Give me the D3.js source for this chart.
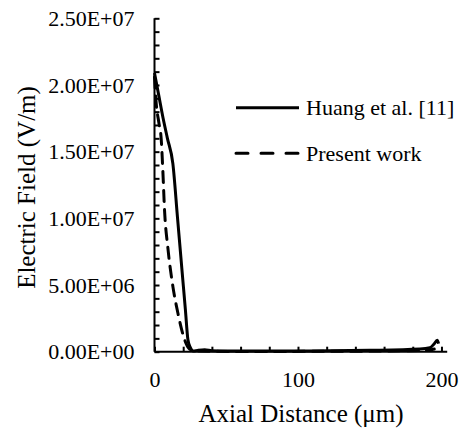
<!DOCTYPE html>
<html>
<head>
<meta charset="utf-8">
<script src="https://cdn.jsdelivr.net/npm/d3@7"></script>
<style>
  html, body { margin: 0; padding: 0; background: #fff; }
  svg { display: block; }
</style>
</head>
<body>
<svg id="chart" width="463" height="430"></svg>
<script>
// Axial distance (µm) and electric field (V/m) for each series
const huangX = [0, 3, 6, 9, 12.8, 16, 19, 21.5, 23.3, 25, 27, 30, 35, 40, 50, 100, 150, 185, 192, 195, 197, 198];
const huangY = [2.09e7, 1.92e7, 1.75e7, 1.60e7, 1.41e7, 1.01e7, 6.3e6, 3.2e6, 9.0e5, 3.0e5, 5.0e4, 1.0e5, 1.5e5, 8.0e4, 5.0e4, 5.0e4, 1.0e5, 2.0e5, 3.0e5, 6.0e5, 8.5e5, 6.0e5];

const presentX = [0, 1.2, 3, 4.7, 5.8, 7, 9.3, 12.8, 16.3, 21, 24, 28, 60, 120, 190, 195];
const presentY = [2.06e7, 1.86e7, 1.72e7, 1.59e7, 1.36e7, 1.06e7, 7.8e6, 4.9e6, 2.9e6, 9.0e5, 2.5e5, 5.0e4, 2.0e4, 3.0e4, 1.0e5, 2.0e5];

const seriesNames = ["Huang et al. [11]", "Present work"];

// Axis ticks
const yMajorTicks = [0, 5e6, 1e7, 1.5e7, 2e7, 2.5e7];
const yMinorTicks = d3.range(0, 2.5e7 + 1, 1e6);
const xMajorTicks = [0, 100, 200];
const xMinorTicks = d3.range(0, 201, 20);

const xTitle = "Axial Distance (\u03bcm)";
const yTitle = "Electric Field (V/m)";

const FONT = "'Liberation Serif', 'Times New Roman', 'DejaVu Serif', serif";

// Excel-style scientific label, e.g. 2.50E+07
function sci(v) {
  if (v === 0) return "0.00E+00";
  const e = Math.floor(Math.log10(Math.abs(v)));
  const m = (v / Math.pow(10, e)).toFixed(2);
  return m + "E" + (e < 0 ? "-" : "+") + String(Math.abs(e)).padStart(2, "0");
}

const svg = d3.select("#chart").style("font-family", FONT);
const plot = { left: 154.5, right: 447.2, top: 18.3, bottom: 351.7 };

const x = d3.scaleLinear().domain([0, 204]).range([plot.left, plot.right]);
const y = d3.scaleLinear().domain([0, 2.5e7]).range([plot.bottom, plot.top]);

// Minor ticks drawn inside the plot area
svg.append("g")
  .attr("transform", `translate(${plot.left},0)`)
  .call(d3.axisRight(y).tickValues(yMinorTicks).tickSize(5).tickFormat(""))
  .call(g => g.select(".domain").remove())
  .call(g => g.selectAll("line").attr("stroke", "#000").attr("stroke-width", 2));

svg.append("g")
  .attr("transform", `translate(0,${plot.bottom})`)
  .call(d3.axisTop(x).tickValues(xMinorTicks).tickSize(5).tickFormat(""))
  .call(g => g.select(".domain").remove())
  .call(g => g.selectAll("line").attr("stroke", "#000").attr("stroke-width", 2));

// Labelled axes
const yAxis = svg.append("g")
  .attr("transform", `translate(${plot.left},0)`)
  .call(d3.axisLeft(y).tickValues(yMajorTicks).tickSize(0).tickPadding(20).tickFormat(sci))
  .attr("font-family", FONT).attr("font-size", 22);
yAxis.select(".domain").attr("stroke", "#000").attr("stroke-width", 2)
  .attr("d", `M0,${plot.top}V${plot.bottom}`);
yAxis.selectAll("text").style("font-family", FONT).style("font-size", "22px").attr("fill", "#000");

const xAxis = svg.append("g")
  .attr("transform", `translate(0,${plot.bottom})`)
  .call(d3.axisBottom(x).tickValues(xMajorTicks).tickSize(0).tickPadding(19.5).tickFormat(d3.format("d")))
  .attr("font-family", FONT).attr("font-size", 22);
xAxis.select(".domain").attr("stroke", "#000").attr("stroke-width", 2)
  .attr("d", `M${plot.left},0H${plot.right}`);
xAxis.selectAll("text").style("font-family", FONT).style("font-size", "22px").attr("fill", "#000");

// Axis titles
svg.append("text")
  .attr("x", 301).attr("y", 421.5)
  .attr("text-anchor", "middle")
  .style("font-family", FONT)
  .style("font-size", "25px")
  .text(xTitle);

svg.append("text")
  .attr("transform", "translate(34.8,187.5) rotate(-90)")
  .attr("text-anchor", "middle")
  .style("font-family", FONT)
  .style("font-size", "25px")
  .text(yTitle);

// Series lines
const line = d3.line()
  .x(d => x(d[0]))
  .y(d => y(d[1]))
  .curve(d3.curveMonotoneX);

const huang = d3.zip(huangX, huangY);
const present = d3.zip(presentX, presentY);

svg.append("path")
  .datum(present)
  .attr("fill", "none")
  .attr("stroke", "#000")
  .attr("stroke-width", 3)
  .attr("stroke-dasharray", "11,8")
  .attr("stroke-linecap", "round")
  .attr("d", line);

svg.append("path")
  .datum(huang)
  .attr("fill", "none")
  .attr("stroke", "#000")
  .attr("stroke-width", 3)
  .attr("stroke-linejoin", "round")
  .attr("d", line);

// Legend
const legend = svg.append("g");
const legendRows = [
  { name: seriesNames[0], dash: null, y: 107.7 },
  { name: seriesNames[1], dash: "12,13", y: 153.3 }
];
legendRows.forEach(r => {
  legend.append("line")
    .attr("x1", 236).attr("x2", 299)
    .attr("y1", r.y).attr("y2", r.y)
    .attr("stroke", "#000")
    .attr("stroke-width", 3)
    .attr("stroke-linecap", r.dash ? "round" : "butt")
    .attr("stroke-dasharray", r.dash);
  legend.append("text")
    .attr("x", 306).attr("y", r.y + 7.5)
    .style("font-family", FONT)
    .style("font-size", "22px")
    .text(r.name);
});
</script>
</body>
</html>
